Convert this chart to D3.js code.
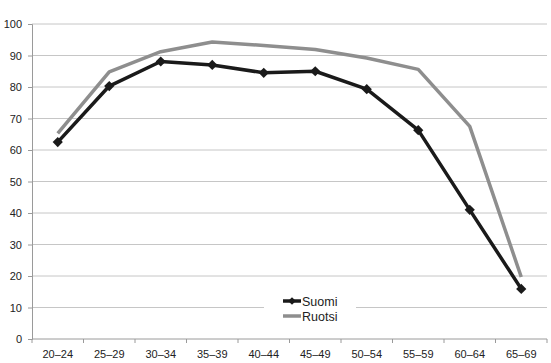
<!DOCTYPE html>
<html>
<head>
<meta charset="utf-8">
<script src="https://cdn.jsdelivr.net/npm/d3@7"></script>
<style>
  body { margin: 0; background: #fff; }
  text { font-family: "Liberation Sans", Arial, sans-serif; fill: #222; }
</style>
</head>
<body>
<script>
// data
const ageGroups = ["20–24", "25–29", "30–34", "35–39", "40–44", "45–49", "50–54", "55–59", "60–64", "65–69"];
const suomi = [62.5, 80.3, 88.1, 87.0, 84.5, 85.0, 79.3, 66.3, 41.0, 15.9];
const ruotsi = [65.3, 84.8, 91.2, 94.3, 93.2, 91.9, 89.2, 85.6, 67.5, 19.7];
const yTicks = [0, 10, 20, 30, 40, 50, 60, 70, 80, 90, 100];

const w = 551, h = 363;
const plotLeft = 32, plotRight = 547, plotTop = 24, plotBottom = 339;

const svg = d3.select("body").append("svg")
  .attr("width", w)
  .attr("height", h);

const x = d3.scaleBand().domain(ageGroups).range([plotLeft, plotRight]);
const y = d3.scaleLinear().domain([0, 100]).range([plotBottom, plotTop]);

// gridlines
svg.append("g")
  .selectAll("line")
  .data(yTicks.slice(1))
  .enter()
  .append("line")
  .attr("x1", plotLeft).attr("x2", plotRight)
  .attr("y1", d => y(d)).attr("y2", d => y(d))
  .attr("stroke", "#c6c6c6")
  .attr("stroke-width", 1);

// y axis
const yAxis = d3.axisLeft(y).tickValues(yTicks).tickSize(4).tickPadding(6);
const gy = svg.append("g")
  .attr("transform", "translate(" + plotLeft + ",0)")
  .call(yAxis);
gy.select(".domain").attr("stroke", "#9a9a9a");
gy.selectAll(".tick line").attr("stroke", "#9a9a9a");
gy.selectAll("text").attr("font-size", "11px").style("fill", "#222");

// x axis, ticks between categories
svg.append("line")
  .attr("x1", plotLeft).attr("x2", plotRight)
  .attr("y1", plotBottom).attr("y2", plotBottom)
  .attr("stroke", "#9a9a9a");
const bounds = ageGroups.map(d => x(d)).concat([plotRight]);
svg.append("g")
  .selectAll("line")
  .data(bounds)
  .enter()
  .append("line")
  .attr("x1", d => d).attr("x2", d => d)
  .attr("y1", plotBottom).attr("y2", plotBottom + 4)
  .attr("stroke", "#9a9a9a");
svg.append("g")
  .selectAll("text")
  .data(ageGroups)
  .enter()
  .append("text")
  .attr("x", d => x(d) + x.bandwidth() / 2)
  .attr("y", plotBottom + 19)
  .attr("text-anchor", "middle")
  .attr("font-size", "11px")
  .text(d => d);

const cx = (d, i) => x(ageGroups[i]) + x.bandwidth() / 2;
const line = d3.line().x(cx).y(d => y(d));

// Ruotsi
svg.append("path")
  .datum(ruotsi)
  .attr("d", line)
  .attr("fill", "none")
  .attr("stroke", "#8e8e8e")
  .attr("stroke-width", 3.5)
  .attr("stroke-linejoin", "round");

// Suomi
svg.append("path")
  .datum(suomi)
  .attr("d", line)
  .attr("fill", "none")
  .attr("stroke", "#1a1a1a")
  .attr("stroke-width", 3.5)
  .attr("stroke-linejoin", "round");

// square turned 45 degrees = even diamond
const diamond = d3.symbol().type(d3.symbolSquare).size(52);
svg.append("g")
  .selectAll("path")
  .data(suomi)
  .enter()
  .append("path")
  .attr("d", diamond)
  .attr("transform", (d, i) => "translate(" + cx(d, i) + "," + y(d) + ") rotate(45)")
  .attr("fill", "#1a1a1a");

// legend
const lg = svg.append("g");
lg.append("rect")
  .attr("x", 264).attr("y", 290)
  .attr("width", 92).attr("height", 36)
  .attr("fill", "#fff");
lg.append("line")
  .attr("x1", 283).attr("x2", 301)
  .attr("y1", 301).attr("y2", 301)
  .attr("stroke", "#1a1a1a").attr("stroke-width", 3.5);
lg.append("path")
  .attr("d", d3.symbol().type(d3.symbolSquare).size(30))
  .attr("transform", "translate(292,301) rotate(45)")
  .attr("fill", "#1a1a1a");
lg.append("line")
  .attr("x1", 283).attr("x2", 301)
  .attr("y1", 316).attr("y2", 316)
  .attr("stroke", "#8e8e8e").attr("stroke-width", 3.5);
lg.append("text").attr("x", 302).attr("y", 305.5).attr("font-size", "12.5px").text("Suomi");
lg.append("text").attr("x", 302).attr("y", 320.5).attr("font-size", "12.5px").text("Ruotsi");
</script>
</body>
</html>
